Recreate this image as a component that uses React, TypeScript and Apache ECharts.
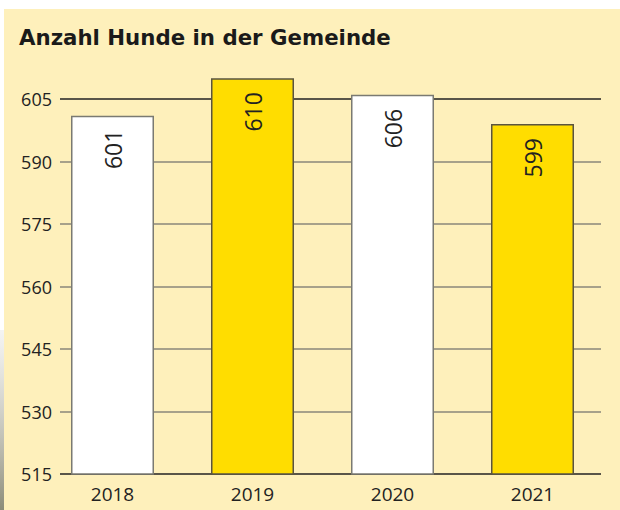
import React, { useEffect, useRef } from "react";
import * as echarts from "echarts";

const years = ["2018", "2019", "2020", "2021"];
const dogCounts = [601, 610, 606, 599];
const yMin = 515;
const yMax = 620;
const yStep = 15;
const titleText = "Anzahl Hunde in der Gemeinde";

const BG = "#FEF0BB";
const YELLOW = "#FFDD00";
const WHITE = "#FFFFFF";
const DARK = "#222222";
const GRAY = "#8a877a";
const FONT = "'Open Sans', Lato, sans-serif";
const TITLE_FONT = "'DejaVu Sans', 'Open Sans', sans-serif";

export default function App() {
  const ref = useRef<HTMLDivElement>(null);
  useEffect(() => {
    if (!ref.current) return;
    const chart = echarts.init(ref.current, undefined, { renderer: "svg" });
    const barFill = (i: number) => (i % 2 === 0 ? WHITE : YELLOW);
    const option: any = {
      animation: false,
      backgroundColor: WHITE,
      textStyle: { fontFamily: FONT },
      title: {
        text: titleText,
        left: 14,
        top: 22,
        textStyle: { fontFamily: TITLE_FONT, fontSize: 21.3, fontWeight: "bold", color: "#1a1a1a" },
      },
      graphic: {
        elements: [
          {
            type: "rect",
            silent: true,
            z: -10,
            shape: { x: 4, y: 9, width: 616, height: 501 },
            style: { fill: BG },
          },
          {
            type: "rect",
            silent: true,
            z: -10,
            shape: { x: 0, y: 330, width: 4, height: 180 },
            style: {
              fill: new echarts.graphic.LinearGradient(0, 0, 0, 1, [
                { offset: 0, color: "rgba(200,200,190,0.2)" },
                { offset: 1, color: "#8c8c78" },
              ]),
            },
          },
        ],
      },
      grid: [
        { left: 60, right: 19, top: 36.5, bottom: 36 },
        { left: 42.5, right: 17.5, top: 36.5, bottom: 36 },
      ],
      xAxis: [
        { type: "value", gridIndex: 0, min: 0, max: 1, show: false },
        {
          type: "category",
          gridIndex: 1,
          data: years,
          axisLine: { show: false },
          axisTick: { show: false },
          axisLabel: { fontSize: 19, color: DARK, margin: 10, fontFamily: FONT },
        },
      ],
      yAxis: [
        {
          type: "value",
          gridIndex: 0,
          min: yMin,
          max: yMax,
          interval: yStep,
          axisLine: { show: false },
          axisTick: { show: false },
          axisLabel: {
            fontSize: 18,
            color: DARK,
            margin: 8,
            showMaxLabel: false,
            fontFamily: FONT,
          },
          splitLine: {
            show: true,
            showMaxLine: false,
            lineStyle: {
              width: 1.5,
              color: [DARK, GRAY, GRAY, GRAY, GRAY, GRAY, DARK, "rgba(0,0,0,0)"],
            },
          },
        },
        {
          type: "value",
          gridIndex: 1,
          min: yMin,
          max: yMax,
          interval: yStep,
          show: false,
          splitLine: { show: false },
        },
      ],
      series: [
        {
          type: "bar",
          xAxisIndex: 1,
          yAxisIndex: 1,
          barWidth: 83,
          data: dogCounts.map((v, i) => ({
            value: v,
            itemStyle: {
              color: barFill(i),
              borderColor: i % 2 === 0 ? "#7a7a72" : "#5a5440",
              borderWidth: 1.5,
            },
          })),
          label: {
            show: true,
            position: "insideTop",
            rotate: 90,
            align: "right",
            verticalAlign: "middle",
            distance: 14,
            fontSize: 23,
            color: DARK,
            fontFamily: FONT,
          },
        },
      ],
    };
    chart.setOption(option);
    return () => chart.dispose();
  }, []);
  return (
    <div style={{ position: "fixed", left: 0, top: 0, width: 620, height: 510, background: "#fff" }}>
      <div ref={ref} style={{ width: 620, height: 510 }} />
    </div>
  );
}
